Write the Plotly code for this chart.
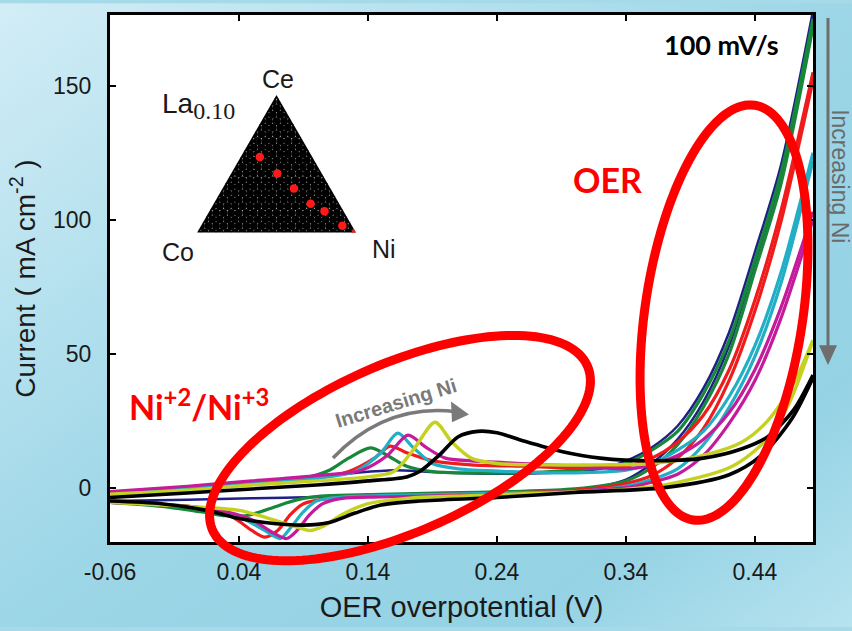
import base64
import numpy as np
import plotly.graph_objects as go

# ---------------- data ----------------
series_names = ["s1", "s2", "s3", "s4", "s5", "s6", "s7"]
series_colors = ["#1f1f86", "#17873a", "#f01c1c", "#22afc6", "#c41a9c", "#c5d11f", "#000000"]
series_widths = [2.5, 3.2, 3.2, 3.2, 3.2, 3.4, 3.6]

# anodic (forward) branches
fwd_x = [
    [-0.06, 0.00, 0.05, 0.10, 0.13, 0.16, 0.19, 0.23, 0.28, 0.32, 0.34, 0.36, 0.38, 0.40, 0.42, 0.44, 0.46, 0.485],
    [-0.06, 0.00, 0.05, 0.09, 0.11, 0.125, 0.142, 0.155, 0.17, 0.19, 0.22, 0.26, 0.30, 0.34, 0.36, 0.38, 0.40, 0.42, 0.44, 0.46, 0.485],
    [-0.06, 0.00, 0.05, 0.10, 0.125, 0.145, 0.157, 0.17, 0.19, 0.22, 0.26, 0.30, 0.34, 0.36, 0.38, 0.40, 0.42, 0.44, 0.46, 0.485],
    [-0.06, 0.00, 0.05, 0.10, 0.13, 0.15, 0.163, 0.175, 0.19, 0.21, 0.25, 0.30, 0.34, 0.36, 0.38, 0.40, 0.42, 0.44, 0.46, 0.485],
    [-0.06, 0.00, 0.05, 0.10, 0.135, 0.155, 0.171, 0.185, 0.20, 0.22, 0.26, 0.30, 0.34, 0.36, 0.38, 0.40, 0.42, 0.44, 0.46, 0.485],
    [-0.06, 0.00, 0.05, 0.10, 0.14, 0.16, 0.175, 0.192, 0.205, 0.22, 0.24, 0.28, 0.32, 0.36, 0.40, 0.43, 0.45, 0.47, 0.485],
    [-0.06, 0.00, 0.05, 0.10, 0.14, 0.17, 0.18, 0.195, 0.21, 0.225, 0.24, 0.26, 0.29, 0.32, 0.36, 0.40, 0.43, 0.45, 0.47, 0.485],
]
fwd_y = [
    [-2.0, 0.0, 2.0, 4.0, 5.5, 6.5, 5.8, 5.2, 5.5, 7.0, 10, 15, 23, 37, 58, 88, 120, 178],
    [-2.5, -0.5, 1.5, 3.5, 6.5, 11, 14.8, 12, 8, 6, 5.5, 5.5, 6.5, 9, 14, 21, 35, 55, 85, 117, 175],
    [-2.5, -0.5, 1.5, 3.5, 6, 11, 15.5, 13, 10, 8.5, 8, 7.4, 8, 11, 17, 27, 44, 70, 103, 155],
    [-2.5, -0.5, 1.5, 3.5, 6, 13, 20.3, 15, 9, 7, 6, 5.5, 6.5, 9, 14, 21, 34, 53, 80, 125],
    [-1.5, 0.5, 2.5, 4.5, 6.5, 12, 19.6, 15, 11, 10, 9, 8, 7, 8.5, 12, 18, 28, 44, 67, 103],
    [-2.5, -1.0, 1.0, 2.5, 4, 6, 14, 24.4, 17, 11, 9, 8.5, 8.5, 9, 12, 17, 25, 39, 55],
    [-3.7, -2.0, -0.5, 1.0, 2.5, 4, 6, 12, 19, 21, 20.5, 17.5, 13.5, 11, 10, 11, 14.5, 19, 29, 42],
]
# cathodic (reverse) branches
rev_x = [
    [0.485, 0.46, 0.44, 0.42, 0.40, 0.38, 0.36, 0.34, 0.30, 0.25, 0.20, 0.15, 0.10, 0.05, 0.00, -0.06],
    [0.485, 0.46, 0.44, 0.42, 0.40, 0.38, 0.36, 0.34, 0.30, 0.25, 0.20, 0.15, 0.11, 0.09, 0.075, 0.06, 0.045, 0.03, 0.01, -0.02, -0.06],
    [0.485, 0.46, 0.44, 0.42, 0.40, 0.38, 0.36, 0.34, 0.30, 0.25, 0.20, 0.15, 0.11, 0.09, 0.08, 0.07, 0.06, 0.05, 0.035, 0.01, -0.03, -0.06],
    [0.485, 0.46, 0.44, 0.42, 0.40, 0.38, 0.36, 0.34, 0.30, 0.25, 0.20, 0.15, 0.12, 0.10, 0.09, 0.08, 0.072, 0.06, 0.045, 0.03, 0.00, -0.06],
    [0.485, 0.46, 0.44, 0.42, 0.40, 0.38, 0.36, 0.34, 0.30, 0.25, 0.20, 0.15, 0.12, 0.105, 0.095, 0.085, 0.077, 0.067, 0.05, 0.03, 0.00, -0.06],
    [0.485, 0.465, 0.445, 0.42, 0.37, 0.33, 0.28, 0.22, 0.17, 0.14, 0.12, 0.105, 0.095, 0.08, 0.06, 0.04, 0.00, -0.06],
    [0.485, 0.469, 0.445, 0.42, 0.37, 0.30, 0.24, 0.18, 0.15, 0.13, 0.11, 0.09, 0.06, 0.04, 0.015, -0.02, -0.06],
]
rev_y = [
    [176, 116, 84, 53, 32, 18, 9, 3, -1, -2, -2.5, -3, -3.5, -4, -4.5, -5],
    [172, 113, 81, 50, 30, 16, 7.5, 2.5, -0.5, -1.5, -2, -2.5, -3, -4, -6, -8.5, -10.5, -10.5, -9, -7, -5.5],
    [152, 99, 66, 40, 22, 11, 4.5, 1.5, -1, -2, -2.5, -3, -4, -6, -10, -16, -18.5, -16, -11, -7.5, -6, -5.5],
    [122, 76, 49, 30, 16, 7, 3, 0.5, -1.5, -2, -2.5, -3, -3.5, -5, -9, -15, -19, -16, -12, -9, -7, -5.5],
    [100, 63, 40, 24, 12, 5, 2, 0, -1.5, -2.5, -3, -3.5, -4, -6, -10, -16, -19, -17, -12, -9, -7, -5.5],
    [55, 30, 16, 7.4, 1, -1, -2, -3, -4, -6, -10, -14.5, -16, -14, -11, -8.5, -7, -5.5],
    [41, 26, 12, 4.8, 0, -1.8, -3.7, -5, -6.5, -9.5, -13, -14, -13, -11.5, -8.5, -6, -5],
]

x_ticks = [-0.06, 0.04, 0.14, 0.24, 0.34, 0.44]
x_tick_labels = ["-0.06", "0.04", "0.14", "0.24", "0.34", "0.44"]
y_ticks = [0, 50, 100, 150]

# inset: composition spots (Ce, Co, Ni fractions)
spot_ce = [0.55, 0.43, 0.32, 0.21, 0.155, 0.05, 0.0]
spot_co = [0.33, 0.28, 0.23, 0.18, 0.12, 0.06, 0.0]
spot_ni = [0.12, 0.29, 0.45, 0.61, 0.725, 0.89, 1.0]
grid_div = 21

# ---------------- geometry helpers ----------------
FW, FH = 852, 631
L, R, T, B = 110, 813, 12, 545
W, H = R - L, B - T


def PX(px):
    return (px - L) / W


def PY(py):
    return (B - py) / H


fig = go.Figure()

for i in range(len(series_names)):
    for bx, by in ((fwd_x[i], fwd_y[i]), (rev_x[i], rev_y[i])):
        fig.add_trace(go.Scatter(
            x=bx, y=by, mode="lines",
            line=dict(color=series_colors[i], width=series_widths[i], shape="spline", smoothing=0.8),
            showlegend=False, hoverinfo="skip"))

# ternary inset grid
ga, gb, gc = [], [], []
for i in range(grid_div + 1):
    for j in range(grid_div + 1 - i):
        k = grid_div - i - j
        ga.append(i / grid_div)
        gb.append(j / grid_div)
        gc.append(k / grid_div)
fig.add_trace(go.Scatterternary(a=ga, b=gb, c=gc, mode="markers",
                                marker=dict(color="black", size=8.0, line=dict(width=0)),
                                showlegend=False, hoverinfo="skip"))
fig.add_trace(go.Scatterternary(a=spot_ce, b=spot_co, c=spot_ni, mode="markers",
                                marker=dict(color="#ff1a1a", size=8.5, line=dict(width=0)),
                                showlegend=False, hoverinfo="skip"))

hidden_ax = dict(showgrid=False, showline=False, showticklabels=False, ticks="", title=dict(text=""))
fig.update_layout(ternary=dict(
    domain=dict(x=[PX(195), PX(358)], y=[PY(232), PY(93)]),
    bgcolor="rgba(0,0,0,0)", sum=1,
    aaxis=hidden_ax, baxis=hidden_ax, caxis=hidden_ax))

# background gradient with white plotting area
svg = ("<svg xmlns='http://www.w3.org/2000/svg' width='852' height='631'>"
       "<defs><linearGradient id='g' x1='0' y1='0' x2='1' y2='1'>"
       "<stop offset='0' stop-color='#d2edf6'/><stop offset='0.5' stop-color='#9cd6e7'/>"
       "<stop offset='0.8' stop-color='#94d2e4'/><stop offset='1' stop-color='#b7e3ef'/>"
       "</linearGradient></defs><rect width='852' height='631' fill='url(#g)'/>"
       f"<rect x='{L}' y='{T}' width='{W}' height='{H}' fill='white'/></svg>")
src = "data:image/svg+xml;base64," + base64.b64encode(svg.encode()).decode()
fig.add_layout_image(dict(source=src, xref="paper", yref="paper", x=PX(0), y=PY(0),
                          sizex=FW / W, sizey=FH / H, xanchor="left", yanchor="top",
                          sizing="stretch", layer="below"))


def ellipse_path(cx, cy, a, b, theta_deg, n=160):
    th = np.radians(theta_deg)
    t = np.linspace(0, 2 * np.pi, n)
    px = cx + a * np.cos(t) * np.cos(th) + b * np.sin(t) * np.sin(th)
    py = cy - a * np.cos(t) * np.sin(th) + b * np.sin(t) * np.cos(th)
    pts = [f"{PX(u):.5f},{PY(v):.5f}" for u, v in zip(px, py)]
    return "M " + " L ".join(pts) + " Z"


shapes = []
shapes.append(dict(type="path", xref="paper", yref="paper", path=ellipse_path(400, 450, 205, 85, 24),
                   line=dict(color="#ff0000", width=9), layer="above"))
shapes.append(dict(type="path", xref="paper", yref="paper", path=ellipse_path(724, 313, 212, 79, 81.7),
                   line=dict(color="#ff0000", width=9), layer="above"))
# curved gray arrow
shapes.append(dict(type="path", xref="paper", yref="paper",
                   path=f"M {PX(333)},{PY(460)} Q {PX(385)},{PY(405)} {PX(455)},{PY(413)}",
                   line=dict(color="#7a7a7a", width=3.5), layer="above"))
shapes.append(dict(type="path", xref="paper", yref="paper",
                   path=f"M {PX(469)},{PY(416)} L {PX(451)},{PY(403)} L {PX(452)},{PY(424)} Z",
                   fillcolor="#7a7a7a", line=dict(width=0), layer="above"))
# right vertical arrow
shapes.append(dict(type="line", xref="paper", yref="paper", x0=PX(828), x1=PX(828), y0=PY(15), y1=PY(348),
                   line=dict(color="#6e6e6e", width=3)))
shapes.append(dict(type="path", xref="paper", yref="paper",
                   path=f"M {PX(819)},{PY(346)} L {PX(837)},{PY(346)} L {PX(828)},{PY(366)} Z",
                   fillcolor="#6e6e6e", line=dict(width=0)))

annotations = [
    dict(text="<b>100 mV/s</b>", x=PX(721), y=PY(42), font=dict(family="Lato", size=27, color="black")),
    dict(text="<b>OER</b>", x=PX(607), y=PY(178), font=dict(family="Lato", size=34, color="#ff0000")),
    dict(text="<b>Ni<sup>+2</sup>/Ni<sup>+3</sup></b>", x=PX(199), y=PY(406),
         font=dict(family="Lato", size=34, color="#ff0000")),
    dict(text="<b>Increasing Ni</b>", x=PX(396), y=PY(404), textangle=-17,
         font=dict(family="Liberation Sans", size=20, color="#7a7a7a")),
    dict(text="Increasing Ni", x=PX(840), y=PY(175), textangle=90,
         font=dict(family="Liberation Sans", size=23, color="#6a6a6a")),
    dict(text="Ce", x=PX(278), y=PY(77), font=dict(family="Liberation Sans", size=25, color="#1a1a1a")),
    dict(text="Co", x=PX(178), y=PY(252), font=dict(family="Liberation Sans", size=25, color="#1a1a1a")),
    dict(text="Ni", x=PX(384), y=PY(249), font=dict(family="Liberation Sans", size=25, color="#1a1a1a")),
    dict(text="La<sub><span style='font-family:Liberation Serif;font-size:24px'>0.10</span></sub>",
         x=PX(198), y=PY(104), font=dict(family="Liberation Sans", size=28, color="#1a1a1a")),
]
for a in annotations:
    a.update(xref="paper", yref="paper", showarrow=False, xanchor="center", yanchor="middle")

fig.update_layout(
    width=FW, height=FH,
    margin=dict(l=L, r=FW - R, t=T, b=FH - B),
    paper_bgcolor="#a6dae9", plot_bgcolor="white",
    shapes=shapes, annotations=annotations,
    xaxis=dict(range=[-0.06, 0.485], tickvals=x_ticks, ticktext=x_tick_labels,
               ticks="inside", ticklen=6, tickwidth=1.5, tickcolor="black",
               showline=True, linecolor="black", linewidth=3, mirror="ticks",
               showgrid=False, zeroline=False, ticklabelstandoff=7,
               tickfont=dict(family="Liberation Sans", size=23, color="#1a1a1a"),
               title=dict(text="OER overpotential (V)", standoff=14,
                          font=dict(family="Liberation Sans", size=29, color="#1a1a1a"))),
    yaxis=dict(range=[-20.3, 176.4], tickvals=y_ticks,
               ticks="inside", ticklen=6, tickwidth=1.5, tickcolor="black",
               showline=True, linecolor="black", linewidth=3, mirror="ticks",
               showgrid=False, zeroline=False, ticklabelstandoff=11,
               tickfont=dict(family="Liberation Sans", size=23, color="#1a1a1a"),
               title=dict(text="Current ( mA cm<sup>-2</sup> )", standoff=10,
                          font=dict(family="Liberation Sans", size=28, color="#1a1a1a"))),
)

fig.write_html("out.html")
